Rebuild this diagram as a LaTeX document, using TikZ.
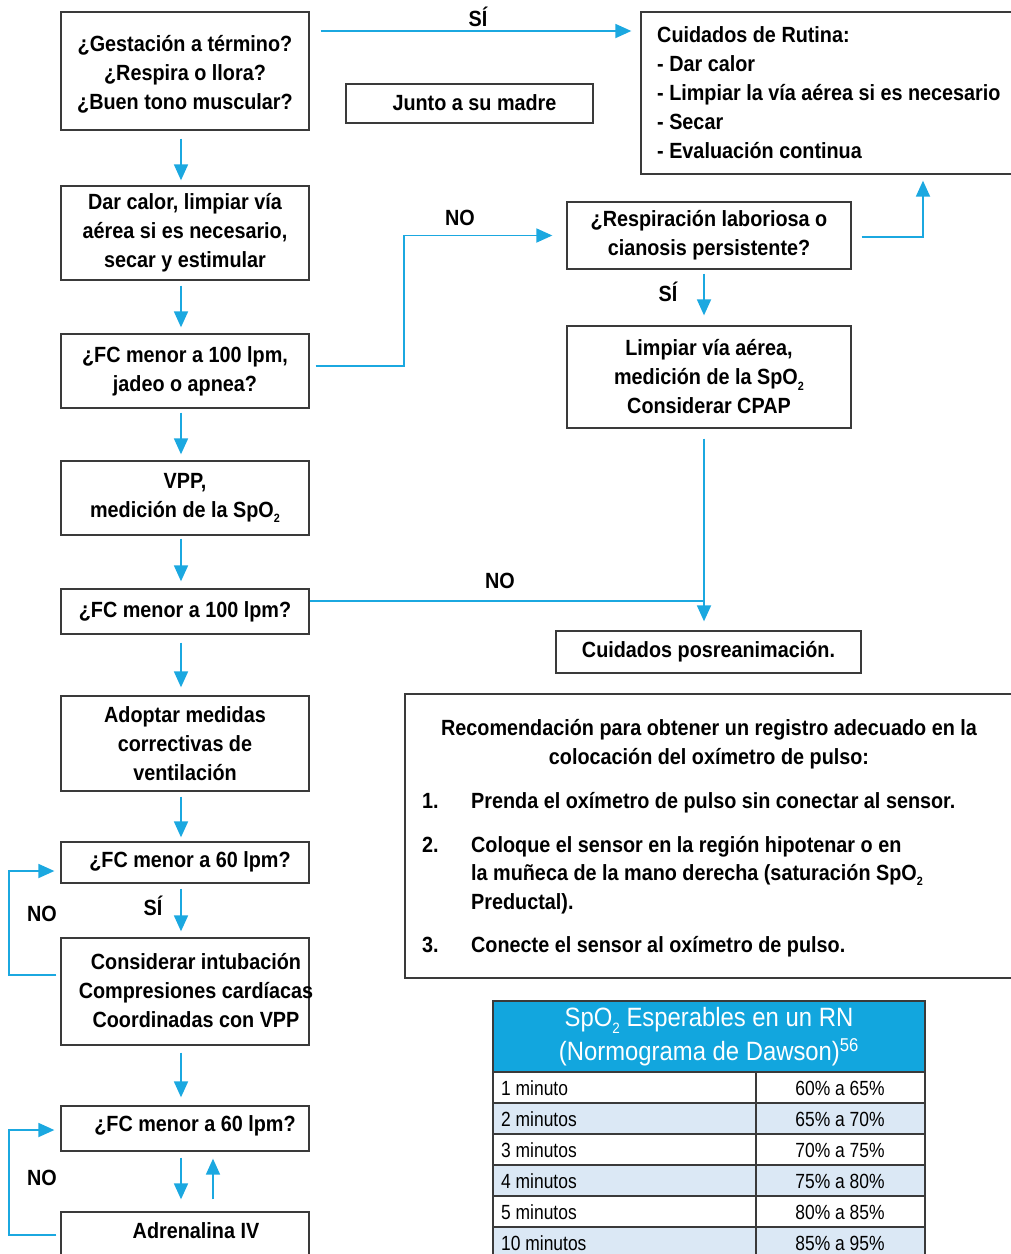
\documentclass[tikz,border=0pt]{standalone}
\usepackage{fontspec}
\setmainfont{Liberation Sans}[FakeStretch=0.90]
\newfontfamily\tabfont{Liberation Sans}[FakeStretch=0.85]
\newfontfamily\tabhfont{Liberation Sans}[FakeStretch=0.90]
\usetikzlibrary{arrows.meta,calc}
\definecolor{arrblue}{HTML}{1BA8E0}
\definecolor{hdr}{HTML}{12A6DE}
\definecolor{rowb}{HTML}{DBE8F5}
\definecolor{bord}{HTML}{3A3A3A}
\newcommand\subtwo{\raisebox{-0.5ex}{\fontsize{12}{12}\selectfont 2}}
\tikzset{
 box/.style={draw=bord, line width=1.3pt, fill=white, inner sep=0pt, align=center, font=\fontsize{22}{29}\selectfont\bfseries},
 txt/.style={font=\fontsize{22}{29}\selectfont\bfseries, align=center, inner sep=0pt},
 lbl/.style={font=\fontsize{22}{29}\selectfont\bfseries, inner sep=0pt},
 arr/.style={draw=arrblue, line width=1.8pt, -{Triangle[length=16pt,width=14pt]}},
 ln/.style={draw=arrblue, line width=1.8pt},
 tab/.style={font=\tabfont\fontsize{20.5}{24}\selectfont, inner sep=0pt},
 tabh/.style={font=\tabhfont\fontsize{26.5}{30}\selectfont, inner sep=0pt, text=white},
}
\begin{document}
\begin{tikzpicture}[x=1pt,y=-1pt]
\useasboundingbox (0,0) rectangle (1011,1254);

% left column
\node[box, minimum width=248, minimum height=118] (b1) at (185,71) {};
\node[txt] (t1) at (185,74) {¿Gestación a término?\\¿Respira o llora?\\¿Buen tono muscular?};
\node[box, minimum width=248, minimum height=94] (b2) at (185,233) {Dar calor, limpiar vía\\aérea si es necesario,\\secar y estimular};
\node[box, minimum width=248, minimum height=74] (b3) at (185,371) {¿FC menor a 100 lpm,\\jadeo o apnea?};
\node[box, minimum width=248, minimum height=74] (b4) at (185,498) {VPP,\\medición de la SpO\subtwo};
\node[box, minimum width=248, minimum height=45] (b5) at (185,611.5) {¿FC menor a 100 lpm?};
\node[box, minimum width=248, minimum height=95] (b6) at (185,743.5) {Adoptar medidas\\correctivas de\\ventilación};
\node[box, minimum width=248, minimum height=41] (b7) at (185,862.5) {};
\node[txt] (t7) at (190,862) {¿FC menor a 60 lpm?};
\node[box, minimum width=248, minimum height=107] (b8) at (185,991.5) {};
\node[txt] (t8) at (196,991) {Considerar intubación\\Compresiones cardíacas\\Coordinadas con VPP};
\node[box, minimum width=248, minimum height=45] (b9) at (185,1128.5) {};
\node[txt] (t9) at (195,1126) {¿FC menor a 60 lpm?};
\node[box, minimum width=248, minimum height=50] (b10) at (185,1237) {};
\node[txt] (t10) at (196,1231) {Adrenalina IV};

% right side
\node[box, minimum width=247, minimum height=39] (junto) at (469.5,103.5) {};
\node[txt] (tj) at (474.5,103) {Junto a su madre};
\node[box, minimum width=372, minimum height=162] (rutina) at (827,93) {};
\node[txt, align=left, anchor=west] (tr) at (657,93) {Cuidados de Rutina:\\- Dar calor\\- Limpiar la vía aérea si es necesario\\- Secar\\- Evaluación continua};
\node[box, minimum width=284, minimum height=67] (resp) at (709,235.5) {¿Respiración laboriosa o\\cianosis persistente?};
\node[box, minimum width=284, minimum height=102] (limp) at (709,377) {Limpiar vía aérea,\\medición de la SpO\subtwo\\Considerar CPAP};
\node[box, minimum width=305, minimum height=42] (posre) at (708.5,652) {Cuidados posreanimación.};
\coordinate (j) at (704,601);

% recommendation box
\node[box, minimum width=610, minimum height=284] (reco) at (710,836) {};
\node[lbl, anchor=base] (r1) at (709,735) {Recomendación para obtener un registro adecuado en la};
\node[lbl, anchor=base] (r2) at (709,764) {colocación del oxímetro de pulso:};
\node[lbl, anchor=base west] (n1) at (422,808) {1.};
\node[lbl, anchor=base west] (i1) at (471,808) {Prenda el oxímetro de pulso sin conectar al sensor.};
\node[lbl, anchor=base west] (n2) at (422,852) {2.};
\node[lbl, anchor=base west] (i2a) at (471,852) {Coloque el sensor en la región hipotenar o en};
\node[lbl, anchor=base west] (i2b) at (471,880) {la muñeca de la mano derecha (saturación SpO\subtwo};
\node[lbl, anchor=base west] (i2c) at (471,909) {Preductal).};
\node[lbl, anchor=base west] (n3) at (422,952) {3.};
\node[lbl, anchor=base west] (i3) at (471,952) {Conecte el sensor al oxímetro de pulso.};

% table
\fill[hdr] (493,1001) rectangle (925,1072);
\fill[rowb] (493,1103) rectangle (925,1134);
\fill[rowb] (493,1165) rectangle (925,1196);
\fill[rowb] (493,1227) rectangle (925,1262);
\foreach \yy in {1072,1103,1134,1165,1196,1227}
  \draw[bord, line width=1.3pt] (493,\yy) -- (925,\yy);
\draw[bord, line width=1.3pt] (756,1072) -- (756,1262);
\draw[bord, line width=1.3pt] (493,1262) -- (493,1001) -- (925,1001) -- (925,1262);
\node[tabh] (h1) at (709,1020) {SpO\raisebox{-0.5ex}{\fontsize{15}{15}\selectfont 2} Esperables en un RN};
\node[tabh] (h2) at (709,1052) {(Normograma de Dawson)\textsuperscript{56}};
\foreach \yy/\a/\b in {1088/1 minuto/60\% a 65\%, 1119/2 minutos/65\% a 70\%, 1150/3 minutos/70\% a 75\%, 1181/4 minutos/75\% a 80\%, 1212/5 minutos/80\% a 85\%, 1243/10 minutos/85\% a 95\%}{
  \node[tab, anchor=west] at (501,\yy) {\a};
  \node[tab] at (840,\yy) {\b};
}

% connectors
\draw[arr] ($(b1.east)+(11,-40)$) -- ($(rutina.west)+(-9,-62)$);
\node[lbl] (s1) at (478,17) {SÍ};
\draw[arr] ($(b1.south)+(-4,8)$) -- ($(b2.north)+(-4,-5)$);
\draw[arr] ($(b2.south)+(-4,5)$) -- ($(b3.north)+(-4,-6)$);
\draw[arr] ($(b3.east)+(6,-5)$) -| ($(resp.west)+(-162,0)$) -- ($(resp.west)+(-14,0)$);
\node[lbl] (s2) at (460,218) {NO};
\draw[arr] ($(resp.east)+(10,1.5)$) -| ($(rutina.south)+(96,6)$);
\draw[arr] ($(resp.south)+(-5,4)$) -- ($(limp.north)+(-5,-10)$);
\node[lbl] (s3) at (668,292) {SÍ};
\draw[arr] ($(limp.south)+(-5,10)$) -- ($(posre.north)+(-4.5,-9)$);
\draw[ln] ($(b5.east)+(0,-10.5)$) -- (j);
\node[lbl] (s4) at (500,581) {NO};
\draw[arr] ($(b3.south)+(-4,4)$) -- ($(b4.north)+(-4,-6)$);
\draw[arr] ($(b4.south)+(-4,3)$) -- ($(b5.north)+(-4,-7)$);
\draw[arr] ($(b5.south)+(-4,8)$) -- ($(b6.north)+(-4,-8)$);
\draw[arr] ($(b6.south)+(-4,5)$) -- ($(b7.north)+(-4,-4)$);
\draw[arr] ($(b7.south)+(-4,5)$) -- ($(b8.north)+(-4,-6)$);
\node[lbl] (s5) at (153,906) {SÍ};
\draw[arr] ($(b8.west)+(-4,-16.5)$) -| ($(b7.west)+(-51,8.5)$) -- ($(b7.west)+(-6,8.5)$);
\node[lbl] (s6) at (42,914) {NO};
\draw[arr] ($(b8.south)+(-4,7)$) -- ($(b9.north)+(-4,-8)$);
\draw[arr] ($(b9.south)+(-4,6)$) -- ($(b10.north)+(-4,-12)$);
\draw[arr] ($(b10.north)+(28,-12)$) -- ($(b9.south)+(28,7)$);
\draw[arr] ($(b10.west)+(-4,-2)$) -| ($(b9.west)+(-51,1.5)$) -- ($(b9.west)+(-6,1.5)$);
\node[lbl] (s7) at (42,1178) {NO};
\end{tikzpicture}
\end{document}
